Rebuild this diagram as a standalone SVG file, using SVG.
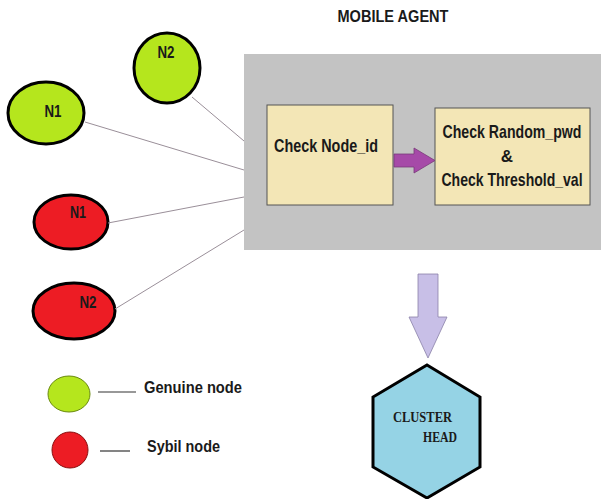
<svg xmlns="http://www.w3.org/2000/svg" width="601" height="499" viewBox="0 0 601 499">
<style>
.t{font-family:"Liberation Sans",Arial,sans-serif;font-weight:bold;fill:#1a1a1a}
.g{fill:#b5e61d;stroke:#000;stroke-width:3}
.r{fill:#ed1c24;stroke:#000;stroke-width:3}
.box{fill:#f3e6b6;stroke:#555;stroke-width:1}
.ln{stroke:#9a8f99;stroke-width:1;fill:none}
.lg{stroke:#333;stroke-width:1.2}
.s{font-family:"Liberation Serif","Times New Roman",serif;font-weight:bold;fill:#1a1a1a}
</style>
<rect width="601" height="499" fill="#fff"/>
<text class="t" x="393" y="22" font-size="17" text-anchor="middle" textLength="111" lengthAdjust="spacingAndGlyphs">MOBILE AGENT</text>
<g id="mobile-agent">
<rect x="244" y="54" width="357" height="196" fill="#c3c3c3"/>
</g>
<g id="check-node-id">
<rect class="box" x="267" y="105" width="126" height="100"/>
<text class="t" x="274" y="152" font-size="18" textLength="104" lengthAdjust="spacingAndGlyphs">Check Node_id</text>
</g>
<g id="check-random">
<rect class="box" x="435" y="108" width="155" height="97"/>
<text class="t" font-size="18" text-anchor="middle" transform="translate(512,138) scale(0.785,1)">Check Random_pwd</text>
<text class="t" x="507" y="162" font-size="17" text-anchor="middle">&amp;</text>
<text class="t" font-size="18" text-anchor="middle" transform="translate(512,186) scale(0.78,1)">Check Threshold_val</text>
</g>
<g id="genuine-n2">
<ellipse class="g" cx="167" cy="68" rx="33" ry="35"/>
<text class="t" x="166" y="58" font-size="17" text-anchor="middle" textLength="17" lengthAdjust="spacingAndGlyphs">N2</text>
</g>
<g id="genuine-n1">
<ellipse class="g" cx="46" cy="113" rx="38" ry="31"/>
<text class="t" x="53" y="117" font-size="17" text-anchor="middle" textLength="17" lengthAdjust="spacingAndGlyphs">N1</text>
</g>
<g id="sybil-n1">
<ellipse class="r" cx="71" cy="222" rx="37" ry="27"/>
<text class="t" x="78" y="218" font-size="17" text-anchor="middle" textLength="16" lengthAdjust="spacingAndGlyphs">N1</text>
</g>
<g id="sybil-n2">
<ellipse class="r" cx="74" cy="311" rx="41" ry="28"/>
<text class="t" x="88" y="308" font-size="17" text-anchor="middle" textLength="17" lengthAdjust="spacingAndGlyphs">N2</text>
</g>
<g id="cluster-head">
<polygon points="427,365 480,397 480,467 427,498 373,467 373,397" fill="#95d3e5" stroke="#000" stroke-width="3"/>
<text class="s" x="393" y="422" font-size="15" textLength="59" lengthAdjust="spacingAndGlyphs">CLUSTER</text>
<text class="s" x="423" y="442" font-size="15" textLength="34" lengthAdjust="spacingAndGlyphs">HEAD</text>
</g>
<g id="connectors">
<line class="ln" x1="192" y1="97" x2="244" y2="141"/>
<line class="ln" x1="85" y1="122" x2="244" y2="170"/>
<line class="ln" x1="108" y1="223" x2="244" y2="197"/>
<line class="ln" x1="115" y1="309" x2="244" y2="230"/>
<polygon points="394,154 414,154 414,148 435,160.5 414,173 414,167 394,167" fill="#a64aa8" stroke="#7a3a7a" stroke-width="0.8"/>
<polygon points="418,274 438,274 438,317 447,317 428,358 409,317 418,317" fill="#c8bfe7" stroke="#8a82a8" stroke-width="0.8"/>
</g>
<g id="legend">
<ellipse cx="69" cy="394" rx="21" ry="18" fill="#b5e61d" stroke="#6a8a10" stroke-width="1"/>
<line class="lg" x1="98" y1="392" x2="136" y2="392"/>
<text class="t" x="144" y="393" font-size="17" textLength="98" lengthAdjust="spacingAndGlyphs">Genuine node</text>
<circle cx="70" cy="450" r="18" fill="#ed1c24" stroke="#8a1010" stroke-width="1"/>
<line class="lg" x1="100" y1="451" x2="130" y2="451"/>
<text class="t" x="147" y="452" font-size="17" textLength="73" lengthAdjust="spacingAndGlyphs">Sybil node</text>
</g>
</svg>
